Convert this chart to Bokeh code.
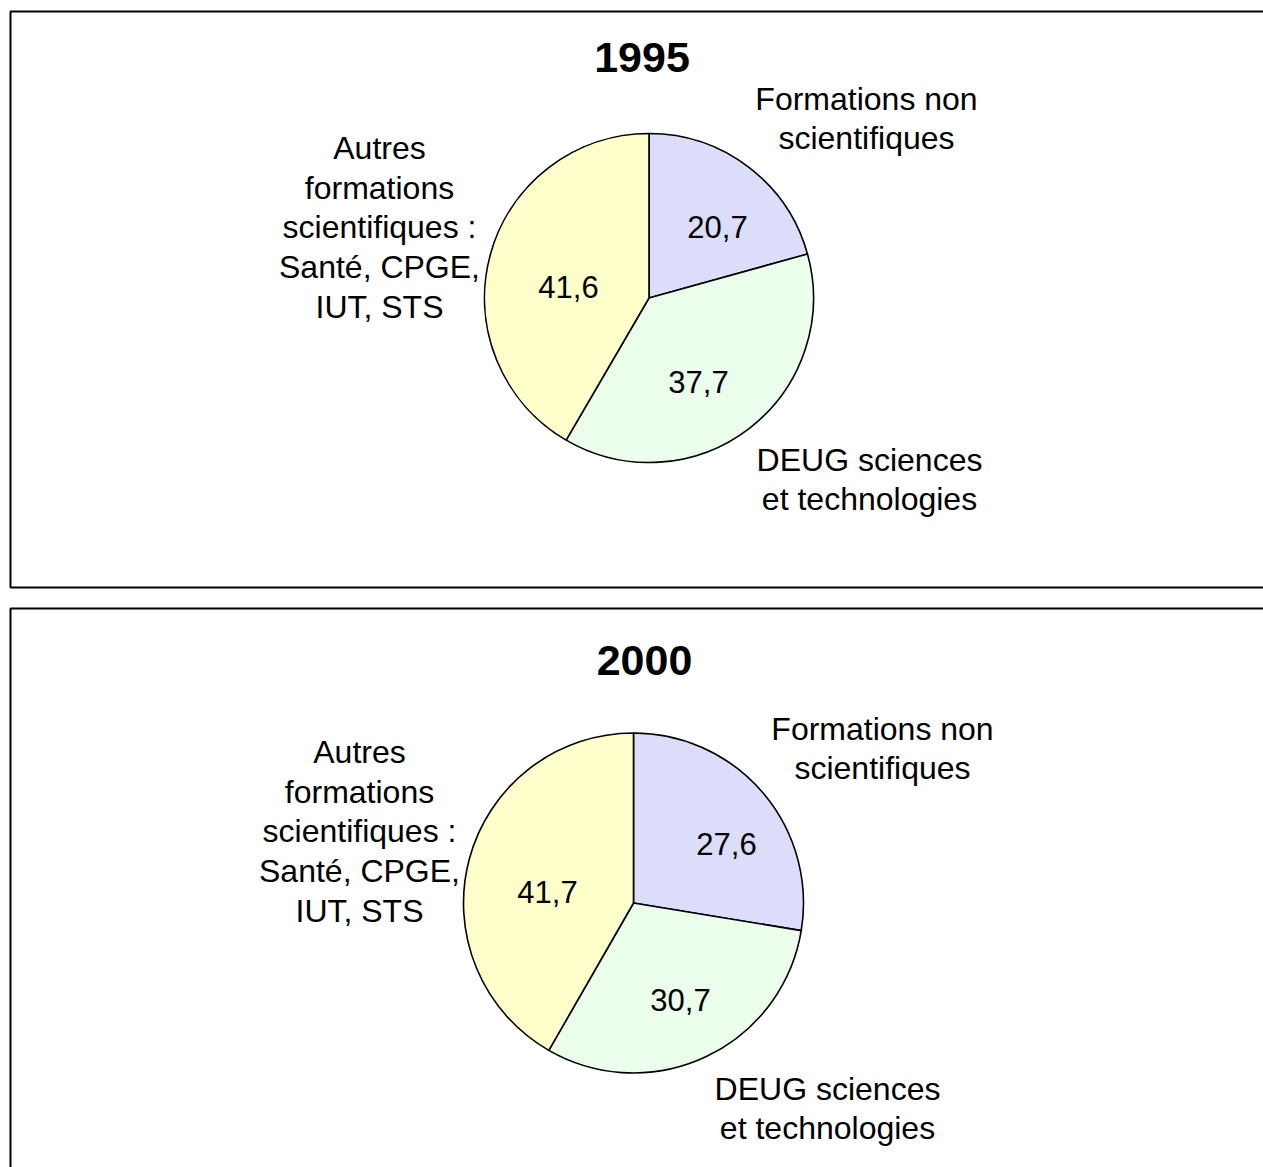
import math
from bokeh.plotting import figure
from bokeh.models import Range1d, ColumnDataSource
from bokeh.core.properties import value
from bokeh.embed import file_html
from bokeh.resources import INLINE

# ---------------- data ----------------
years = ["1995", "2000"]
categories = ["Formations non scientifiques",
              "DEUG sciences et technologies",
              "Autres formations scientifiques : Santé, CPGE, IUT, STS"]
category_labels = ["Formations non\nscientifiques",
                   "DEUG sciences\net technologies",
                   "Autres\nformations\nscientifiques :\nSanté, CPGE,\nIUT, STS"]
values_1995 = [20.7, 37.7, 41.6]
values_2000 = [27.6, 30.7, 41.7]
series = [values_1995, values_2000]

# ---------------- layout / style ----------------
colors = ["#DCDCFB", "#EBFDEB", "#FFFFCC"]
W, H = 1263, 1167
OFF = 0
panel_top = [11, 608]
panel_bottom = [587, 1230]
panel_left = 10
panel_right = 1300
pie_center = [(648.5, 297.5), (633, 902.5)]
pie_radius = [164.5, 170]
title_pos = [(641.5, 57), (644, 660)]
cat_label_pos = [
    [(866, 118), (869, 479), (379, 227)],
    [(882, 748), (827, 1108), (359, 831)],
]
val_label_off = [
    [(68.5, -71.5), (49.5, 83.5), (-80.5, -11.5)],
    [(93, -59.5), (47, 96.5), (-86, -11.5)],
]
FONT = "Liberation Sans"

p = figure(width=W, height=H, output_backend="svg", toolbar_location=None,
           x_range=Range1d(OFF, OFF + W), y_range=Range1d(OFF + H, OFF),
           min_border=0, outline_line_color=None)
p.axis.visible = False
p.grid.visible = False
p.background_fill_color = "white"
p.border_fill_color = "white"

# panel frames
p.quad(left=[panel_left] * 2, right=[panel_right] * 2,
       top=panel_top, bottom=panel_bottom,
       fill_alpha=0, line_color="black", line_width=2)

for k, vals in enumerate(series):
    total = sum(vals)
    cx, cy = pie_center[k]
    starts, ends = [], []
    cum = 0.0
    for v in vals:
        a0 = math.pi / 2 - 2 * math.pi * (cum + v) / total
        a1 = math.pi / 2 - 2 * math.pi * cum / total
        starts.append(a0)
        ends.append(a1)
        cum += v
    src = ColumnDataSource(dict(x=[cx] * len(vals), y=[cy] * len(vals),
                                start=starts, end=ends, color=colors,
                                cat=categories, val=vals))
    p.wedge(x="x", y="y", radius=pie_radius[k], radius_units="screen",
            start_angle="start", end_angle="end", direction="anticlock",
            fill_color="color", line_color="black", line_width=1.6, source=src)

    # value labels
    vx = [cx + d[0] for d in val_label_off[k]]
    vy = [cy + d[1] for d in val_label_off[k]]
    vt = [f"{v:.1f}".replace(".", ",") for v in vals]
    p.text(x=vx, y=vy, text=vt, text_font=value(FONT), text_font_size="31px",
           text_align="center", text_baseline="middle", text_color="black")

    # category labels
    lx = [c[0] for c in cat_label_pos[k]]
    ly = [c[1] for c in cat_label_pos[k]]
    p.text(x=lx, y=ly, text=category_labels, text_font=value(FONT),
           text_font_size="32px", text_align="center", text_baseline="middle",
           text_line_height=1.1, text_color="black")

    # title
    p.text(x=[title_pos[k][0]], y=[title_pos[k][1]], text=[years[k]],
           text_font=value(FONT), text_font_size="43px", text_font_style="bold",
           text_align="center", text_baseline="middle", text_color="black")

open("out.html", "w").write(file_html(p, INLINE))
